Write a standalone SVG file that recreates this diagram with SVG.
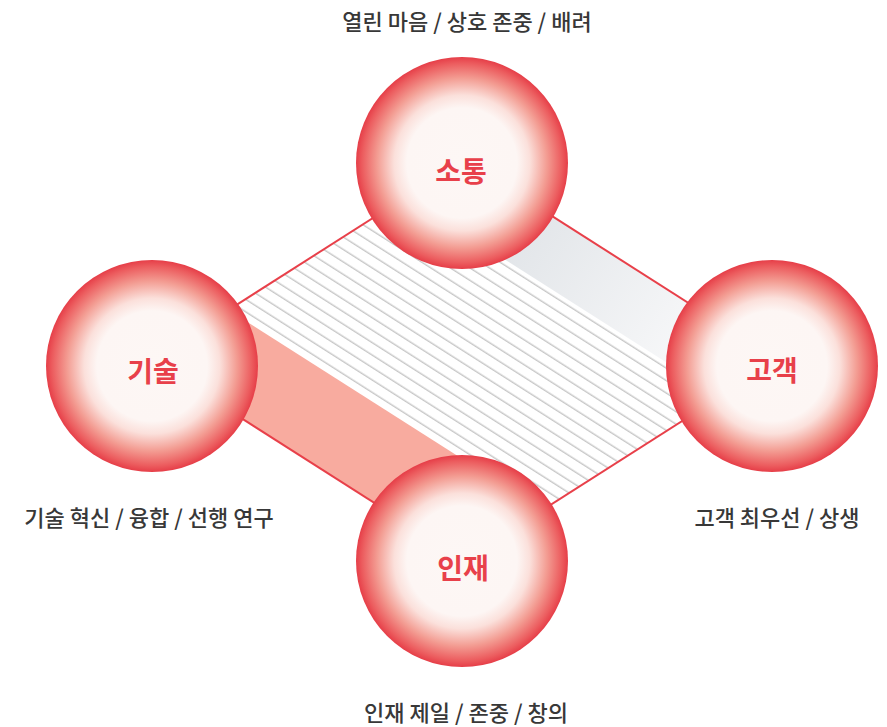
<svg xmlns="http://www.w3.org/2000/svg" width="887" height="727" viewBox="0 0 887 727">
  <style>
    .edge { stroke: #e8404a; stroke-width: 2; fill: none; }
    .ball { fill: url(#ballGrad); }
    .title { font-family: "Noto Sans CJK KR", "Noto Sans", sans-serif; font-weight: 700; font-size: 28px; fill: #e8404a; text-anchor: middle; dominant-baseline: central; }
    .desc { font-family: "Noto Sans CJK KR", "Noto Sans", sans-serif; font-weight: 500; font-size: 22px; fill: #383838; text-anchor: middle; dominant-baseline: central; }
  </style>
  <defs>
    <radialGradient id="ballGrad" cx="0.5" cy="0.5" r="0.5">
      <stop offset="0" stop-color="#fdf7f5"/>
      <stop offset="0.52" stop-color="#fdf6f4"/>
      <stop offset="0.64" stop-color="#fbe0db"/>
      <stop offset="0.8" stop-color="#f39d93"/>
      <stop offset="0.94" stop-color="#ec5d5f"/>
      <stop offset="1" stop-color="#e63e48"/>
    </radialGradient>
    <linearGradient id="greyGrad" gradientUnits="userSpaceOnUse" x1="480" y1="200" x2="720" y2="370">
      <stop offset="0" stop-color="#dde1e5"/>
      <stop offset="1" stop-color="#fbfbfc"/>
    </linearGradient>
    <pattern id="hatch" patternUnits="userSpaceOnUse" width="10" height="10.5" patternTransform="rotate(32.5)">
      <line x1="0" y1="5" x2="10" y2="5" stroke="#c2c2c2" stroke-width="1.3"/>
    </pattern>
  </defs>

  <g id="background">
    <polygon points="464,160 778,360 464,560 150,360" fill="url(#hatch)"/>
    <polygon points="464,160 778,360 720.3,396.8 406.3,196.8" fill="url(#greyGrad)"/>
    <polygon points="150,360 228.5,310 542.5,510 464,560" fill="#f8ab9f"/>
  </g>

  <g id="connectors">
    <line class="edge" x1="464" y1="160" x2="778" y2="360"/>
    <line class="edge" x1="778" y1="360" x2="464" y2="560"/>
    <line class="edge" x1="464" y1="560" x2="150" y2="360"/>
    <line class="edge" x1="150" y1="360" x2="464" y2="160"/>
  </g>

  <g id="node-sotong">
    <circle class="ball" cx="462" cy="163" r="106"/>
    <text class="title" x="461" y="170">소통</text>
    <text class="desc" x="467" y="20">열린 마음 / 상호 존중 / 배려</text>
  </g>

  <g id="node-gisul">
    <circle class="ball" cx="152" cy="366" r="106"/>
    <text class="title" x="153" y="370">기술</text>
    <text class="desc" x="149" y="516">기술 혁신 / 융합 / 선행 연구</text>
  </g>

  <g id="node-gogaek">
    <circle class="ball" cx="772" cy="366" r="106"/>
    <text class="title" x="772" y="369">고객</text>
    <text class="desc" x="777" y="516">고객 최우선 / 상생</text>
  </g>

  <g id="node-injae">
    <circle class="ball" cx="462" cy="561" r="106"/>
    <text class="title" x="463" y="567">인재</text>
    <text class="desc" x="466" y="711">인재 제일 / 존중 / 창의</text>
  </g>
</svg>
